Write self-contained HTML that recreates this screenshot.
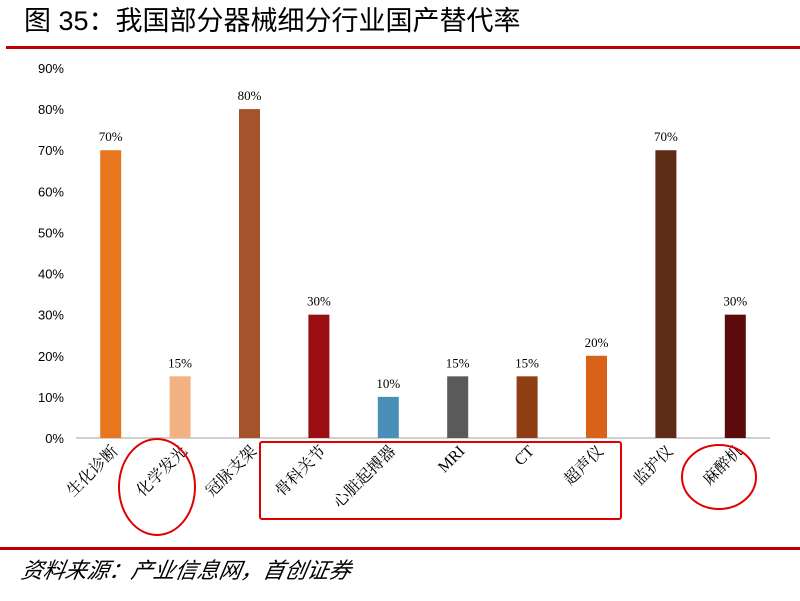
<!DOCTYPE html>
<html><head><meta charset="utf-8"><style>
body{margin:0;width:800px;height:596px;background:#fff;overflow:hidden;font-family:"Liberation Serif","Noto Serif CJK SC",serif}
</style></head><body>
<svg width="800" height="596">
<text x="24" y="30" font-size="27" font-family="Liberation Sans, Noto Sans CJK SC, sans-serif">图 35：我国部分器械细分行业国产替代率</text>
<rect x="6" y="46" width="794" height="3" fill="#C00000"/>
<g id="plot"></g>
<rect x="260" y="442" width="361" height="77" fill="none" stroke="#E00000" stroke-width="2" rx="2"/>
<ellipse cx="157" cy="487" rx="38" ry="48" fill="none" stroke="#E00000" stroke-width="2"/>
<ellipse cx="719" cy="477" rx="37" ry="32" fill="none" stroke="#E00000" stroke-width="2"/>
<rect x="0" y="547" width="800" height="3" fill="#C00000"/>
<text x="22" y="578" font-size="22" font-style="italic" font-family="Liberation Sans, Noto Sans CJK SC, sans-serif" transform="skewX(-10) translate(100,0)">资料来源：产业信息网，首创证券</text>
</svg>
<script>
const categories=["生化诊断","化学发光","冠脉支架","骨科关节","心脏起搏器","MRI","CT","超声仪","监护仪","麻醉机"];
const values=[70,15,80,30,10,15,15,20,70,30];
const colors=["#E8761F","#F4B183","#A5532A","#9A0E12","#4A8FB8","#5A5A5A","#8E3E12","#D9621B","#5E2C14","#5C0A0C"];
const ticks=[0,10,20,30,40,50,60,70,80,90];
const NS="http://www.w3.org/2000/svg";
const g=document.getElementById("plot");
const x0=76,x1=770,y0=438,yTop=68;
const y=v=>y0-(v/90)*(y0-yTop);
const bw=(x1-x0)/categories.length;
const cx=i=>x0+bw*(i+0.5);
function mk(t,a){const e=document.createElementNS(NS,t);for(const k in a)e.setAttribute(k,a[k]);g.appendChild(e);return e;}
ticks.forEach(t=>{const e=mk("text",{x:64,y:y(t)+5,"font-size":13,"text-anchor":"end","font-family":"Liberation Sans, sans-serif"});e.textContent=t+"%";

});
const ax=mk("line",{x1:x0,x2:x1,y1:y0,y2:y0,stroke:"#D0D0D0","stroke-width":2});


categories.forEach((c,i)=>{
const b=mk("rect",{x:cx(i)-10.5,y:y(values[i]),width:21,height:y0-y(values[i]),fill:colors[i]});


const v=mk("text",{x:cx(i),y:y(values[i])-9,"font-size":13,"text-anchor":"middle"});v.textContent=values[i]+"%";


const l=mk("text",{x:0,y:0,"font-size":16,"text-anchor":"end",transform:`translate(${cx(i)+8},${y0+14}) rotate(-45)`});
l.textContent=c;


});
</script>
</body></html>
